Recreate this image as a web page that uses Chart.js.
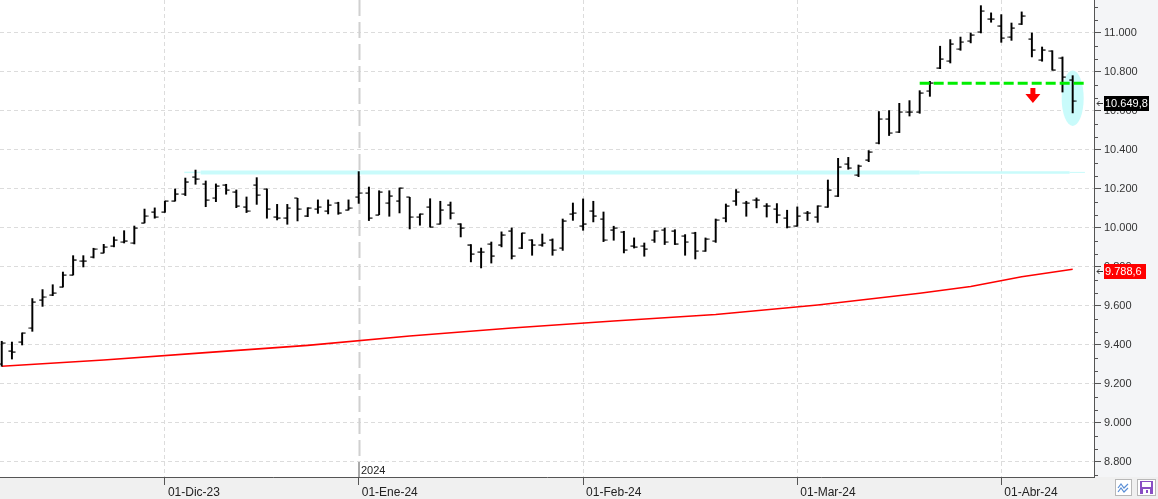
<!DOCTYPE html>
<html>
<head>
<meta charset="utf-8">
<script src="https://cdn.jsdelivr.net/npm/chart.js@4.4.1/dist/chart.umd.min.js"></script>
<style>
html,body{margin:0;padding:0;background:#fff;}
#wrap{width:1158px;height:499px;position:relative;}
canvas{display:block;}
</style>
</head>
<body>
<div id="wrap"><canvas id="c" width="1158" height="499"></canvas></div>
<script>
// ---- trading days (categories) ----
const dates = [
 '2023-11-09','2023-11-10','2023-11-13','2023-11-14','2023-11-15','2023-11-16','2023-11-17','2023-11-20','2023-11-21','2023-11-22','2023-11-23','2023-11-24','2023-11-27','2023-11-28','2023-11-29','2023-11-30',
 '2023-12-01','2023-12-04','2023-12-05','2023-12-06','2023-12-07','2023-12-08','2023-12-11','2023-12-12','2023-12-13','2023-12-14','2023-12-15','2023-12-18','2023-12-19','2023-12-20','2023-12-21','2023-12-22','2023-12-27','2023-12-28','2023-12-29',
 '2024-01-02','2024-01-03','2024-01-04','2024-01-05','2024-01-08','2024-01-09','2024-01-10','2024-01-11','2024-01-12','2024-01-15','2024-01-16','2024-01-17','2024-01-18','2024-01-19','2024-01-22','2024-01-23','2024-01-24','2024-01-25','2024-01-26','2024-01-29','2024-01-30','2024-01-31',
 '2024-02-01','2024-02-02','2024-02-05','2024-02-06','2024-02-07','2024-02-08','2024-02-09','2024-02-12','2024-02-13','2024-02-14','2024-02-15','2024-02-16','2024-02-19','2024-02-20','2024-02-21','2024-02-22','2024-02-23','2024-02-26','2024-02-27','2024-02-28','2024-02-29',
 '2024-03-01','2024-03-04','2024-03-05','2024-03-06','2024-03-07','2024-03-08','2024-03-11','2024-03-12','2024-03-13','2024-03-14','2024-03-15','2024-03-18','2024-03-19','2024-03-20','2024-03-21','2024-03-22','2024-03-25','2024-03-26','2024-03-27','2024-03-28',
 '2024-04-02','2024-04-03','2024-04-04','2024-04-05','2024-04-08','2024-04-09','2024-04-10','2024-04-11'
];

// ---- OHLC values ----
const opens = [9300,9370,9414,9486,9631,9655,9699,9759,9831,9851,9872,9908,9926,9921,10027,10082,10082,10140,10174,10260,
 10224,10152,10220,10186,10109,10220,10198,10058,10053,10152,10063,10096,10087,10126,10092,10157,10179,10068,10128,10140,
 10157,10055,10108,10020,10120,10022,9915,9877,9918,9915,9986,9897,9937,9915,9940,9897,10072,10012,10089,10046,
 9991,9978,9909,9906,9937,9988,9985,9957,9974,9880,9932,10051,10140,10128,10145,10115,10097,10051,10012,10077,
 10056,10109,10164,10328,10272,10349,10434,10557,10491,10596,10596,10700,10821,10855,10918,10957,11003,11073,11038,10979,
 11048,10969,10860,10906,10872,10761];
const highs = [9419,9415,9462,9638,9684,9709,9774,9858,9858,9896,9916,9954,9986,10010,10097,10103,10138,10200,10256,10297,
 10241,10226,10224,10195,10159,10258,10200,10121,10121,10152,10104,10144,10144,10132,10144,10289,10210,10191,10191,10205,
 10157,10072,10150,10137,10133,10022,9915,9897,9928,9980,10000,9974,9940,9969,9944,10046,10128,10149,10137,10082,
 10009,9983,9949,9923,9986,10000,9991,9966,9978,9949,10046,10123,10197,10137,10154,10125,10125,10091,10108,10085,
 10114,10246,10357,10362,10323,10397,10597,10602,10639,10653,10704,10752,10932,10966,10979,11000,11140,11103,11094,11051,
 11108,11000,10928,10909,10877,10781];
const lows = [9291,9328,9400,9470,9598,9653,9697,9759,9800,9846,9872,9903,9923,9918,10026,10050,10080,10138,10166,10224,
 10109,10135,10173,10104,10079,10121,10050,10041,10019,10036,10058,10075,10072,10070,10092,10126,10038,10068,10060,10077,
 9995,10014,10005,10020,10046,9954,9826,9795,9820,9903,9841,9894,9860,9906,9860,9885,10039,9988,10031,9930,
 9937,9872,9897,9855,9926,9915,9915,9860,9841,9880,9926,10031,10116,10060,10103,10056,10026,10000,10009,10038,
 10029,10106,10161,10301,10263,10340,10431,10474,10489,10574,10588,10675,10817,10846,10911,10949,11000,11055,10952,10962,
 11043,10877,10855,10809,10697,10590];
const closes = [9409,9365,9460,9621,9644,9667,9759,9838,9831,9892,9903,9938,9935,10000,10060,10055,10138,10176,10238,10253,
 10144,10217,10195,10113,10087,10169,10096,10053,10101,10097,10104,10106,10118,10079,10101,10178,10051,10185,10166,10205,
 10055,10072,10005,10094,10077,10000,9867,9877,9858,9966,9858,9974,9915,9923,9887,10038,10077,10022,10063,9937,
 10000,9885,9903,9892,9983,9926,9920,9926,9880,9944,10039,10115,10183,10128,10145,10115,10068,10003,10062,10077,
 10111,10195,10315,10306,10318,10391,10557,10485,10593,10596,10694,10745,10867,10945,10952,10991,11111,11073,10974,11026,
 11089,10915,10915,10812,10774,10649.8];

// ---- moving average (red), read at sampled bars ----
const maIdx  = [0,10,20,30,40,50,60,70,80,90,95,100,105];
const maVals = [9291,9323,9361,9398,9446,9487,9523,9556,9605,9665,9700,9750,9788.6];

// ---- axis ticks ----
const monthTickIdx = [16,35,57,78,98];
const monthTickLabels = ['01-Dic-23','01-Ene-24','01-Feb-24','01-Mar-24','01-Abr-24'];
const yearIdx = 35, yearLabel = '2024';
const yTicks = [8800,9000,9200,9400,9600,9800,10000,10200,10400,10600,10800,11000];

// ---- drawn annotations (data units) ----
const supportLevel = 10285;          // cyan highlighted level
const breakLevel = 10742;            // green dashed level
const lastPrice = 10649.8;
const lastMA = 9788.6;

function fmt(v, dec){
  let s = dec ? v.toFixed(dec) : Math.round(v).toString();
  let [ip, fp] = s.split('.');
  ip = ip.replace(/\B(?=(\d{3})+(?!\d))/g, '.');
  return ip + (fp ? ',' + fp : '');
}

function tickCanvas(left){
  const c = document.createElement('canvas');
  c.width = 8; c.height = 2;
  const g = c.getContext('2d');
  g.fillStyle = '#000';
  g.fillRect(left ? 0.5 : 4, 0.5, 3.5, 1.2);
  return c;
}
const openImg = tickCanvas(true), closeImg = tickCanvas(false);

const FONT = "'Liberation Sans', Arial, sans-serif";

const bgPlugin = {
  id: 'bg',
  beforeDraw(chart){
    const {ctx, chartArea:a, width, height} = chart;
    ctx.save();
    ctx.fillStyle = '#ffffff'; ctx.fillRect(0,0,width,height);
    ctx.fillStyle = '#f4f5f7'; ctx.fillRect(a.right,0,width-a.right,a.bottom);
    ctx.fillStyle = '#f0f0f0'; ctx.fillRect(0,a.bottom,width,height-a.bottom);
    ctx.restore();
  },
  beforeDatasetsDraw(chart){
    const {ctx, chartArea:a, scales:{x,y}} = chart;
    ctx.save();
    const xp = Math.round(x.getPixelForValue(yearIdx)) + 0.5;
    ctx.strokeStyle = '#d0d0d0'; ctx.lineWidth = 2; ctx.setLineDash([16,6]);
    ctx.beginPath(); ctx.moveTo(xp, a.top); ctx.lineTo(xp, a.bottom - 16); ctx.stroke();
    ctx.setLineDash([]);
    ctx.strokeStyle = '#555'; ctx.lineWidth = 1;
    ctx.beginPath(); ctx.moveTo(xp - 0.5, a.bottom - 15); ctx.lineTo(xp - 0.5, a.bottom); ctx.stroke();
    ctx.fillStyle = '#222'; ctx.font = '11px ' + FONT; ctx.textBaseline = 'alphabetic'; ctx.textAlign = 'left';
    ctx.fillText(yearLabel, xp + 1.5, a.bottom - 3);
    const n = closes.length - 1;
    const cx = x.getPixelForValue(n), y1 = y.getPixelForValue(10808), y2 = y.getPixelForValue(10523);
    const rx = (x.getPixelForValue(n + 1.08) - x.getPixelForValue(n));
    ctx.fillStyle = '#c9fbfb';
    ctx.beginPath(); ctx.ellipse(cx, (y1+y2)/2, rx, (y2-y1)/2, 0, 0, Math.PI*2); ctx.fill();
    ctx.restore();
  },
  afterDatasetsDraw(chart){
    const {ctx, scales:{x,y}} = chart;
    ctx.save();
    const ax = x.getPixelForValue(101.1);
    const t = y.getPixelForValue(10718), m = y.getPixelForValue(10687), b = y.getPixelForValue(10641);
    ctx.fillStyle = '#ff0000';
    ctx.beginPath();
    ctx.moveTo(ax-2.5,t); ctx.lineTo(ax+2.5,t); ctx.lineTo(ax+2.5,m); ctx.lineTo(ax+7.5,m);
    ctx.lineTo(ax,b); ctx.lineTo(ax-7.5,m); ctx.lineTo(ax-2.5,m); ctx.closePath(); ctx.fill();
    ctx.restore();
  },
  afterDraw(chart){
    const {ctx, chartArea:a, scales:{y}} = chart;
    ctx.save();
    ctx.strokeStyle = '#555'; ctx.lineWidth = 1;
    for (let i = 0; i < yTicks.length; i++){
      for (let k = -2; k <= 2; k++){
        if (k === 0) continue;
        const v = yTicks[i] + k*200/3;
        if (k > 0 && i < yTicks.length-1) continue;
        const p = Math.round(y.getPixelForValue(v)) + 0.5;
        if (p < a.top || p > a.bottom) continue;
        ctx.beginPath(); ctx.moveTo(a.right, p); ctx.lineTo(a.right + 4, p); ctx.stroke();
      }
    }
    const box = (val, bg, w) => {
      const p = y.getPixelForValue(val) + 2;
      ctx.fillStyle = bg; ctx.fillRect(a.right + 10, Math.round(p - 7.5), w, 15);
      ctx.fillStyle = '#fff'; ctx.font = '11px ' + FONT; ctx.textBaseline = 'middle'; ctx.textAlign = 'left';
      ctx.fillText(fmt(val,1), a.right + 11, p + 0.5);
      ctx.strokeStyle = '#333'; ctx.lineWidth = 1;
      const r = Math.round(p) + 0.5;
      ctx.beginPath(); ctx.moveTo(a.right + 3, r); ctx.lineTo(a.right + 9, r);
      ctx.moveTo(a.right + 5.5, r - 2.5); ctx.lineTo(a.right + 3, r); ctx.lineTo(a.right + 5.5, r + 2.5);
      ctx.stroke();
    };
    box(lastPrice, '#000000', 45);
    box(lastMA, '#ff0000', 42);
    const bx = 1115, by = 479;
    ctx.fillStyle = '#fff'; ctx.fillRect(bx, by, 17, 17);
    ctx.strokeStyle = '#b8b8b8'; ctx.strokeRect(bx+0.5, by+0.5, 16, 16);
    ctx.strokeStyle = '#5b8fd6'; ctx.lineWidth = 1.2;
    ctx.beginPath(); ctx.moveTo(bx+3,by+9); ctx.lineTo(bx+6,by+5); ctx.lineTo(bx+9,by+9); ctx.lineTo(bx+13,by+5); ctx.stroke();
    ctx.beginPath(); ctx.moveTo(bx+3,by+13); ctx.lineTo(bx+6,by+9); ctx.lineTo(bx+9,by+13); ctx.lineTo(bx+13,by+9); ctx.stroke();
    const sx = 1137;
    ctx.fillStyle = '#fff'; ctx.fillRect(sx, by, 19, 17);
    ctx.strokeStyle = '#b8b8b8'; ctx.lineWidth = 1; ctx.strokeRect(sx+0.5, by+0.5, 18, 16);
    ctx.fillStyle = '#8a4fc4'; ctx.fillRect(sx+3, by+2, 13, 13);
    ctx.fillStyle = '#fff'; ctx.fillRect(sx+5, by+3, 9, 5); ctx.fillRect(sx+6, by+10, 7, 5);
    ctx.fillStyle = '#8a4fc4'; ctx.fillRect(sx+9, by+11, 2, 3);
    ctx.restore();
  }
};

const barData = dates.map((d,i) => ({x:i, y:[lows[i], highs[i]]}));
const openData = dates.map((d,i) => ({x:i, y:opens[i]}));
const closeData = dates.map((d,i) => ({x:i, y:closes[i]}));
const maData = maIdx.map((i,k) => ({x:i, y:maVals[k]}));

new Chart(document.getElementById('c'), {
  type: 'bar',
  data: {
    datasets: [
      { type:'line', data:[{x:17.9,y:supportLevel},{x:19.5,y:supportLevel}], borderColor:'#c9fbfb', borderWidth:1.5, pointRadius:0, order:20 },
      { type:'line', data:[{x:19.5,y:supportLevel},{x:90,y:supportLevel}], borderColor:'#c9fbfb', borderWidth:4, pointRadius:0, order:20 },
      { type:'line', data:[{x:90,y:supportLevel},{x:104.7,y:supportLevel}], borderColor:'#c9fbfb', borderWidth:2.5, pointRadius:0, order:20 },
      { type:'line', data:[{x:104.7,y:supportLevel},{x:106.2,y:supportLevel}], borderColor:'#c9fbfb', borderWidth:1, pointRadius:0, order:20 },
      { type:'line', data: maData, borderColor:'#ff0000', borderWidth:1.6, pointRadius:0, tension:0, order:10 },
      { type:'bar', data: barData, backgroundColor:'#000', borderWidth:0, barThickness:1.3, grouped:false, order:5 },
      { type:'line', data: openData, showLine:false, pointStyle: openImg, pointRadius:3, order:4 },
      { type:'line', data: closeData, showLine:false, pointStyle: closeImg, pointRadius:3, order:4 },
      { type:'line', data:[{x:90,y:breakLevel},{x:106.2,y:breakLevel}], borderColor:'#00ee00', borderWidth:3, borderDash:[10,4], pointRadius:0, order:1 }
    ]
  },
  options: {
    responsive: false,
    animation: false,
    events: [],
    layout: { padding: 0, autoPadding: false },
    plugins: { legend:{display:false}, tooltip:{enabled:false} },
    scales: {
      x: {
        type:'linear', position:'bottom', min:-0.17, max:107.09, offset:false,
        afterBuildTicks: s => { s.ticks = monthTickIdx.map(v => ({value:v})); },
        afterFit: s => { s.height = 22; s.paddingLeft = 0; s.paddingRight = 0; },
        ticks: { callback:(v,i) => monthTickLabels[i], align:'start', labelOffset:3, maxRotation:0, autoSkip:false,
                 color:'#222', font:{family:FONT, size:12}, padding:0 },
        grid: { offset:false, color: c => c.index === 1 ? 'rgba(0,0,0,0)' : '#dcdcdc', lineWidth:1, tickLength:8, tickColor:'#555', drawTicks:true },
        border: { display:true, color:'#555', width:1, dash:[4,3] }
      },
      y: {
        type:'linear', position:'right', min:8723, max:11169,
        afterBuildTicks: s => { s.ticks = yTicks.map(v => ({value:v})); },
        afterFit: s => { s.width = 64; s.paddingTop = 0; s.paddingBottom = 0; },
        ticks: { callback: v => fmt(v), color:'#333', font:{family:FONT, size:11}, padding:3, includeBounds:false },
        grid: { color:'#dcdcdc', lineWidth:1, tickLength:7, tickColor:'#555', drawTicks:true },
        border: { display:true, color:'#555', width:1, dash:[4,3] }
      }
    }
  },
  plugins: [bgPlugin]
});
</script>
</body>
</html>
